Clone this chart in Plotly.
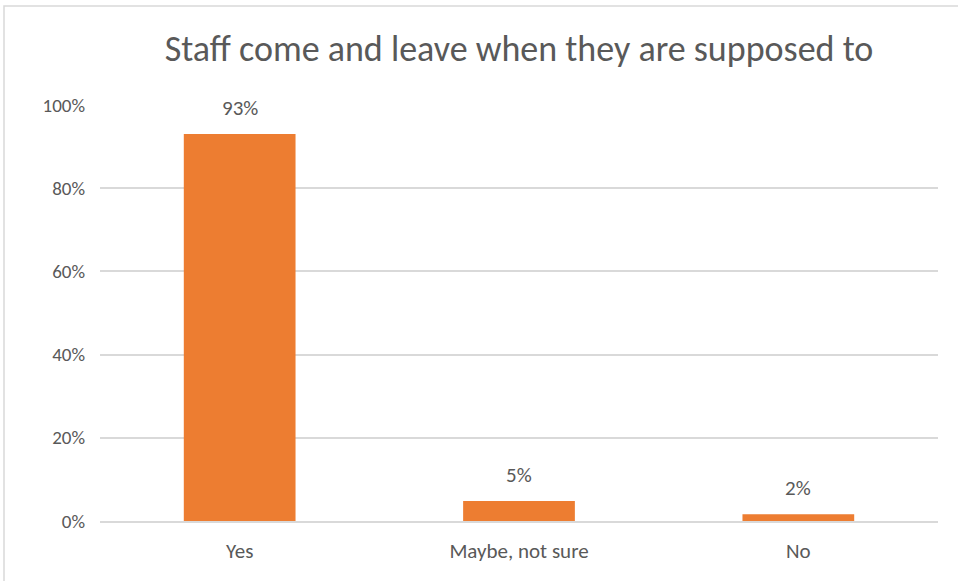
import plotly.graph_objects as go

categories = ["Yes", "Maybe, not sure", "No"]
values = [0.93, 0.048, 0.016]
y_ticks = [0, 0.2, 0.4, 0.6, 0.8, 1.0]
y_tick_labels = ["0%", "20%", "40%", "60%", "80%", "100%"]
title = "Staff come and leave when they are supposed to"

FONT = "Carlito, Lato, Roboto, sans-serif"
GRAY = "#595959"

fig = go.Figure(go.Bar(
    x=categories, y=values,
    marker=dict(color="#ED7D31", line=dict(width=0)),
    hoverinfo="x+y",
))

for c, v in zip(categories, values):
    fig.add_annotation(x=c, y=v, text=f"{round(v * 100)}%", showarrow=False,
                       yanchor="middle", yshift=26,
                       font=dict(family=FONT, size=21, color=GRAY))

W, H = 958, 581
L, R, T, B = 100, 20, 105, 60
pw, ph = W - L - R, H - T - B

def px_x(p):
    return (p - L) / pw

def px_y(p):
    return (H - B - p) / ph

fig.update_layout(
    width=W, height=H,
    margin=dict(l=L, r=R, t=T, b=B),
    paper_bgcolor="white", plot_bgcolor="white",
    bargap=0.6,
    showlegend=False,
    title=dict(text=title, x=0.5, xref="paper", xanchor="center",
               y=1 - 48 / H, yanchor="middle",
               font=dict(family=FONT, size=36, color=GRAY)),
    xaxis=dict(showgrid=False, showline=True, linecolor="#d9d9d9", linewidth=2,
               ticks="", ticklabelstandoff=10,
               tickfont=dict(family=FONT, size=21, color=GRAY)),
    yaxis=dict(range=[0, 1.0], tickvals=y_ticks, ticktext=y_tick_labels,
               showgrid=True, gridcolor="#d9d9d9", gridwidth=1.5,
               zeroline=False, showline=False, ticks="", ticklabelstandoff=14,
               tickfont=dict(family=FONT, size=19, color=GRAY)),
    font=dict(family=FONT, color=GRAY),
    shapes=[
        dict(type="rect", xref="paper", yref="paper",
             x0=px_x(4), x1=px_x(990), y0=px_y(600), y1=px_y(6),
             line=dict(color="#d9d9d9", width=1.5), fillcolor="rgba(0,0,0,0)",
             layer="below"),
    ],
)

fig.write_html("out.html", config={"displayModeBar": False},
               post_script="document.body.style.margin='0';document.body.style.overflow='hidden';")
